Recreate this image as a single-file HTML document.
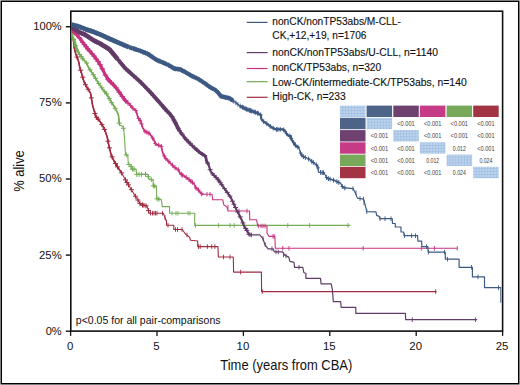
<!DOCTYPE html><html><head><meta charset="utf-8"><style>html,body{margin:0;padding:0;background:#fff;overflow:hidden;width:520px;height:385px;}svg{display:block}</style></head><body>
<svg width="520" height="385" viewBox="0 0 520 385" font-family='"Liberation Sans", sans-serif'>
<rect x="0" y="0" width="520" height="385" fill="#fff"/>
<rect x="1.25" y="1.25" width="517.5" height="382.5" fill="none" stroke="#000" stroke-width="1.5"/>
<rect x="70.8" y="11.2" width="431.8" height="319.9" fill="none" stroke="#111" stroke-width="1.6"/>
<line x1="65.8" y1="331.2" x2="70.8" y2="331.2" stroke="#111" stroke-width="1.4"/>
<line x1="65.8" y1="255.1" x2="70.8" y2="255.1" stroke="#111" stroke-width="1.4"/>
<line x1="65.8" y1="179.0" x2="70.8" y2="179.0" stroke="#111" stroke-width="1.4"/>
<line x1="65.8" y1="102.9" x2="70.8" y2="102.9" stroke="#111" stroke-width="1.4"/>
<line x1="65.8" y1="26.7" x2="70.8" y2="26.7" stroke="#111" stroke-width="1.4"/>
<line x1="70.6" y1="331.2" x2="70.6" y2="335.9" stroke="#111" stroke-width="1.3"/>
<line x1="157.0" y1="331.2" x2="157.0" y2="335.9" stroke="#111" stroke-width="1.3"/>
<line x1="243.4" y1="331.2" x2="243.4" y2="335.9" stroke="#111" stroke-width="1.3"/>
<line x1="329.8" y1="331.2" x2="329.8" y2="335.9" stroke="#111" stroke-width="1.3"/>
<line x1="416.2" y1="331.2" x2="416.2" y2="335.9" stroke="#111" stroke-width="1.3"/>
<line x1="502.6" y1="331.2" x2="502.6" y2="335.9" stroke="#111" stroke-width="1.3"/>
<text x="33.3" y="30.2" font-size="11.6" fill="#111" textLength="28.4" lengthAdjust="spacingAndGlyphs">100%</text>
<text x="39.1" y="106.3" font-size="11.6" fill="#111" textLength="22.6" lengthAdjust="spacingAndGlyphs">75%</text>
<text x="39.1" y="182.4" font-size="11.6" fill="#111" textLength="22.6" lengthAdjust="spacingAndGlyphs">50%</text>
<text x="39.1" y="258.5" font-size="11.6" fill="#111" textLength="22.6" lengthAdjust="spacingAndGlyphs">25%</text>
<text x="45.7" y="334.6" font-size="11.6" fill="#111" textLength="16.0" lengthAdjust="spacingAndGlyphs">0%</text>
<text x="70.1" y="350.1" font-size="11.4" text-anchor="middle" fill="#111">0</text>
<text x="156.5" y="350.1" font-size="11.4" text-anchor="middle" fill="#111">5</text>
<text x="242.9" y="350.1" font-size="11.4" text-anchor="middle" fill="#111">10</text>
<text x="329.3" y="350.1" font-size="11.4" text-anchor="middle" fill="#111">15</text>
<text x="415.7" y="350.1" font-size="11.4" text-anchor="middle" fill="#111">20</text>
<text x="502.1" y="350.1" font-size="11.4" text-anchor="middle" fill="#111">25</text>
<text x="220.3" y="370.2" font-size="14.6" fill="#111" textLength="132" lengthAdjust="spacingAndGlyphs">Time (years from CBA)</text>
<text transform="translate(23.8,191.8) rotate(-90)" font-size="14.6" fill="#111" textLength="41.6" lengthAdjust="spacingAndGlyphs">% alive</text>
<text x="75.8" y="324.3" font-size="10.1" fill="#111" textLength="144.8" lengthAdjust="spacingAndGlyphs">p&lt;0.05 for all pair-comparisons</text>
<line x1="246.7" y1="22.4" x2="267.6" y2="22.4" stroke="#3d5a84" stroke-width="1.2"/>
<line x1="246.7" y1="52.6" x2="267.6" y2="52.6" stroke="#623c68" stroke-width="1.2"/>
<line x1="246.7" y1="68.5" x2="267.6" y2="68.5" stroke="#c8327f" stroke-width="1.2"/>
<line x1="246.7" y1="81.7" x2="267.6" y2="81.7" stroke="#73ad55" stroke-width="1.2"/>
<line x1="246.7" y1="97.3" x2="267.6" y2="97.3" stroke="#a02a3e" stroke-width="1.2"/>
<text x="272.3" y="24.9" font-size="10" fill="#111" stroke="#111" stroke-width="0.12" textLength="128.5" lengthAdjust="spacingAndGlyphs">nonCK/nonTP53abs/M-CLL-</text>
<text x="272.3" y="39.1" font-size="10" fill="#111" stroke="#111" stroke-width="0.12" textLength="94.2" lengthAdjust="spacingAndGlyphs">CK,+12,+19, n=1706</text>
<text x="272.3" y="56.0" font-size="10" fill="#111" stroke="#111" stroke-width="0.12" textLength="165.6" lengthAdjust="spacingAndGlyphs">nonCK/nonTP53abs/U-CLL, n=1140</text>
<text x="272.3" y="70.9" font-size="10" fill="#111" stroke="#111" stroke-width="0.12" textLength="108.9" lengthAdjust="spacingAndGlyphs">nonCK/TP53abs, n=320</text>
<text x="272.3" y="86.0" font-size="10" fill="#111" stroke="#111" stroke-width="0.12" textLength="194.4" lengthAdjust="spacingAndGlyphs">Low-CK/intermediate-CK/TP53abs, n=140</text>
<text x="272.3" y="100.3" font-size="10" fill="#111" stroke="#111" stroke-width="0.12" textLength="73.4" lengthAdjust="spacingAndGlyphs">High-CK, n=233</text>
<defs><pattern id="pt" x="0" y="0" width="2.9" height="2.9" patternUnits="userSpaceOnUse"><rect width="2.9" height="2.9" fill="#c2d7ee"/><rect x="0" width="1" height="2.9" fill="#a3c1e4"/><rect y="0" width="2.9" height="1" fill="#a3c1e4"/></pattern></defs>
<rect x="340.0" y="105.6" width="25.5" height="11.4" fill="url(#pt)"/>
<rect x="366.6" y="105.6" width="25.5" height="11.4" fill="#4d6488"/>
<rect x="393.3" y="105.6" width="25.5" height="11.4" fill="#6e4170"/>
<rect x="419.9" y="105.6" width="25.5" height="11.4" fill="#c63b86"/>
<rect x="446.6" y="105.6" width="25.5" height="11.4" fill="#78a85a"/>
<rect x="473.2" y="105.6" width="25.5" height="11.4" fill="#a33444"/>
<rect x="340.0" y="117.8" width="25.5" height="11.4" fill="#4d6488"/>
<rect x="366.6" y="117.8" width="25.5" height="11.4" fill="url(#pt)"/>
<text x="406.0" y="126.1" font-size="6.6" fill="#3a3a3a" text-anchor="middle" textLength="17.4" lengthAdjust="spacingAndGlyphs">&lt;0.001</text>
<text x="432.7" y="126.1" font-size="6.6" fill="#3a3a3a" text-anchor="middle" textLength="17.4" lengthAdjust="spacingAndGlyphs">&lt;0.001</text>
<text x="459.3" y="126.1" font-size="6.6" fill="#3a3a3a" text-anchor="middle" textLength="17.4" lengthAdjust="spacingAndGlyphs">&lt;0.001</text>
<text x="485.9" y="126.1" font-size="6.6" fill="#3a3a3a" text-anchor="middle" textLength="17.4" lengthAdjust="spacingAndGlyphs">&lt;0.001</text>
<rect x="340.0" y="130.1" width="25.5" height="11.4" fill="#6e4170"/>
<text x="379.4" y="138.4" font-size="6.6" fill="#3a3a3a" text-anchor="middle" textLength="17.4" lengthAdjust="spacingAndGlyphs">&lt;0.001</text>
<rect x="393.3" y="130.1" width="25.5" height="11.4" fill="url(#pt)"/>
<text x="432.7" y="138.4" font-size="6.6" fill="#3a3a3a" text-anchor="middle" textLength="17.4" lengthAdjust="spacingAndGlyphs">&lt;0.001</text>
<text x="459.3" y="138.4" font-size="6.6" fill="#3a3a3a" text-anchor="middle" textLength="17.4" lengthAdjust="spacingAndGlyphs">&lt;0.001</text>
<text x="485.9" y="138.4" font-size="6.6" fill="#3a3a3a" text-anchor="middle" textLength="17.4" lengthAdjust="spacingAndGlyphs">&lt;0.001</text>
<rect x="340.0" y="142.3" width="25.5" height="11.4" fill="#c63b86"/>
<text x="379.4" y="150.7" font-size="6.6" fill="#3a3a3a" text-anchor="middle" textLength="17.4" lengthAdjust="spacingAndGlyphs">&lt;0.001</text>
<text x="406.0" y="150.7" font-size="6.6" fill="#3a3a3a" text-anchor="middle" textLength="17.4" lengthAdjust="spacingAndGlyphs">&lt;0.001</text>
<rect x="419.9" y="142.3" width="25.5" height="11.4" fill="url(#pt)"/>
<text x="459.3" y="150.7" font-size="6.6" fill="#3a3a3a" text-anchor="middle" textLength="13.0" lengthAdjust="spacingAndGlyphs">0.012</text>
<text x="485.9" y="150.7" font-size="6.6" fill="#3a3a3a" text-anchor="middle" textLength="17.4" lengthAdjust="spacingAndGlyphs">&lt;0.001</text>
<rect x="340.0" y="154.6" width="25.5" height="11.4" fill="#78a85a"/>
<text x="379.4" y="162.9" font-size="6.6" fill="#3a3a3a" text-anchor="middle" textLength="17.4" lengthAdjust="spacingAndGlyphs">&lt;0.001</text>
<text x="406.0" y="162.9" font-size="6.6" fill="#3a3a3a" text-anchor="middle" textLength="17.4" lengthAdjust="spacingAndGlyphs">&lt;0.001</text>
<text x="432.7" y="162.9" font-size="6.6" fill="#3a3a3a" text-anchor="middle" textLength="13.0" lengthAdjust="spacingAndGlyphs">0.012</text>
<rect x="446.6" y="154.6" width="25.5" height="11.4" fill="url(#pt)"/>
<text x="485.9" y="162.9" font-size="6.6" fill="#3a3a3a" text-anchor="middle" textLength="13.0" lengthAdjust="spacingAndGlyphs">0.024</text>
<rect x="340.0" y="166.8" width="25.5" height="11.4" fill="#a33444"/>
<text x="379.4" y="175.2" font-size="6.6" fill="#3a3a3a" text-anchor="middle" textLength="17.4" lengthAdjust="spacingAndGlyphs">&lt;0.001</text>
<text x="406.0" y="175.2" font-size="6.6" fill="#3a3a3a" text-anchor="middle" textLength="17.4" lengthAdjust="spacingAndGlyphs">&lt;0.001</text>
<text x="432.7" y="175.2" font-size="6.6" fill="#3a3a3a" text-anchor="middle" textLength="17.4" lengthAdjust="spacingAndGlyphs">&lt;0.001</text>
<text x="459.3" y="175.2" font-size="6.6" fill="#3a3a3a" text-anchor="middle" textLength="13.0" lengthAdjust="spacingAndGlyphs">0.024</text>
<rect x="473.2" y="166.8" width="25.5" height="11.4" fill="url(#pt)"/>
<defs><clipPath id="cp"><rect x="71.5" y="12" width="430" height="318.4"/></clipPath></defs><g clip-path="url(#cp)">
<polyline points="70.8,30.0 72.5,38.0 73.5,40.0 73.8,43.9 74.2,47.8 75.8,54.0 77.7,58.7 78.9,62.6 79.7,67.3 81.3,72.5 84.4,82.9 87.5,88.1 90.6,93.3 92.7,105.8 95.8,116.3 100.0,121.5 103.1,126.7 105.0,130.4 107.1,136.7 109.2,147.1 111.3,155.4 114.4,161.7 117.5,166.9 121.7,173.1 125.8,180.5 130.5,188.3 134.3,194.5 138.4,200.8 140.5,204.5 146.8,206.0 148.8,211.2 148.8,213.2 163.4,213.2 164.4,216.4 166.5,221.6 166.5,225.3 173.8,225.3 173.8,229.5 182.3,229.5 185.4,234.0 189.5,237.1 190.6,240.3 197.7,241.0 197.7,246.6 217.9,246.6 218.4,257.0 233.3,257.0 233.6,272.1 261.4,272.1 261.6,291.6 436.5,291.6" fill="none" stroke="#a02a3e" stroke-width="1.1" stroke-linejoin="round" stroke-linecap="butt" />
<polyline points="70.8,30.0 72.5,38.0 73.5,40.0 73.8,43.9 74.2,47.8 75.8,54.0 77.7,58.7 78.9,62.6 79.7,67.3 81.3,72.5 84.4,82.9 87.5,88.1 90.6,93.3 92.7,105.8 95.8,116.3 100.0,121.5 103.1,126.7 105.0,130.4 107.1,136.7 109.2,147.1 111.3,155.4 114.4,161.7 117.5,166.9 121.7,173.1" fill="none" stroke="#a02a3e" stroke-width="1.6" stroke-linejoin="round" stroke-linecap="butt" />
<path d="M71.5 30.8v5.0M69.0 33.3h5.0" stroke="#a02a3e" stroke-width="1.0" fill="none"/>
<path d="M73.3 37.1v5.0M70.8 39.6h5.0" stroke="#a02a3e" stroke-width="1.0" fill="none"/>
<path d="M77.0 54.6v5.0M74.5 57.1h5.0" stroke="#a02a3e" stroke-width="1.0" fill="none"/>
<path d="M80.6 67.7v5.0M78.1 70.2h5.0" stroke="#a02a3e" stroke-width="1.0" fill="none"/>
<path d="M82.7 74.7v5.0M80.2 77.2h5.0" stroke="#a02a3e" stroke-width="1.0" fill="none"/>
<path d="M85.5 82.2v5.0M83.0 84.7h5.0" stroke="#a02a3e" stroke-width="1.0" fill="none"/>
<path d="M88.1 86.7v5.0M85.6 89.2h5.0" stroke="#a02a3e" stroke-width="1.0" fill="none"/>
<path d="M91.4 95.4v5.0M88.9 97.9h5.0" stroke="#a02a3e" stroke-width="1.0" fill="none"/>
<path d="M95.0 111.0v5.0M92.5 113.5h5.0" stroke="#a02a3e" stroke-width="1.0" fill="none"/>
<path d="M96.6 114.8v5.0M94.1 117.3h5.0" stroke="#a02a3e" stroke-width="1.0" fill="none"/>
<path d="M98.1 116.7v5.0M95.6 119.2h5.0" stroke="#a02a3e" stroke-width="1.0" fill="none"/>
<path d="M101.9 122.1v5.0M99.4 124.6h5.0" stroke="#a02a3e" stroke-width="1.0" fill="none"/>
<path d="M104.5 126.9v5.0M102.0 129.4h5.0" stroke="#a02a3e" stroke-width="1.0" fill="none"/>
<path d="M108.0 138.7v5.0M105.5 141.2h5.0" stroke="#a02a3e" stroke-width="1.0" fill="none"/>
<path d="M109.4 145.4v5.0M106.9 147.9h5.0" stroke="#a02a3e" stroke-width="1.0" fill="none"/>
<path d="M112.1 154.4v5.0M109.6 156.9h5.0" stroke="#a02a3e" stroke-width="1.0" fill="none"/>
<path d="M115.5 161.0v5.0M113.0 163.5h5.0" stroke="#a02a3e" stroke-width="1.0" fill="none"/>
<path d="M117.5 164.4v5.0M115.0 166.9h5.0" stroke="#a02a3e" stroke-width="1.0" fill="none"/>
<path d="M121.6 170.4v5.0M119.1 172.9h5.0" stroke="#a02a3e" stroke-width="1.0" fill="none"/>
<path d="M125.5 177.4v5.0M123.0 179.9h5.0" stroke="#a02a3e" stroke-width="1.0" fill="none"/>
<path d="M127.0 180.0v5.0M124.5 182.5h5.0" stroke="#a02a3e" stroke-width="1.0" fill="none"/>
<path d="M128.5 182.4v5.0M126.0 184.9h5.0" stroke="#a02a3e" stroke-width="1.0" fill="none"/>
<path d="M131.4 187.2v5.0M128.9 189.7h5.0" stroke="#a02a3e" stroke-width="1.0" fill="none"/>
<path d="M135.4 193.7v5.0M132.9 196.2h5.0" stroke="#a02a3e" stroke-width="1.0" fill="none"/>
<path d="M137.9 197.5v5.0M135.4 200.0h5.0" stroke="#a02a3e" stroke-width="1.0" fill="none"/>
<path d="M139.9 200.9v5.0M137.4 203.4h5.0" stroke="#a02a3e" stroke-width="1.0" fill="none"/>
<path d="M142.5 202.5v5.0M140.0 205.0h5.0" stroke="#a02a3e" stroke-width="1.0" fill="none"/>
<path d="M143.9 202.8v5.0M141.4 205.3h5.0" stroke="#a02a3e" stroke-width="1.0" fill="none"/>
<path d="M146.0 203.3v5.0M143.5 205.8h5.0" stroke="#a02a3e" stroke-width="1.0" fill="none"/>
<path d="M148.6 208.1v5.0M146.1 210.6h5.0" stroke="#a02a3e" stroke-width="1.0" fill="none"/>
<line x1="150.5" y1="210.9" x2="150.5" y2="215.5" stroke="#a02a3e" stroke-width="0.9"/>
<line x1="152.5" y1="210.9" x2="152.5" y2="215.5" stroke="#a02a3e" stroke-width="0.9"/>
<line x1="154.0" y1="210.9" x2="154.0" y2="215.5" stroke="#a02a3e" stroke-width="0.9"/>
<line x1="155.5" y1="210.9" x2="155.5" y2="215.5" stroke="#a02a3e" stroke-width="0.9"/>
<line x1="157.0" y1="210.9" x2="157.0" y2="215.5" stroke="#a02a3e" stroke-width="0.9"/>
<line x1="162.5" y1="210.9" x2="162.5" y2="215.5" stroke="#a02a3e" stroke-width="0.9"/>
<line x1="165.0" y1="215.2" x2="165.0" y2="219.8" stroke="#a02a3e" stroke-width="0.9"/>
<line x1="166.5" y1="219.7" x2="166.5" y2="224.3" stroke="#a02a3e" stroke-width="0.9"/>
<line x1="168.0" y1="223.0" x2="168.0" y2="227.6" stroke="#a02a3e" stroke-width="0.9"/>
<line x1="175.5" y1="227.2" x2="175.5" y2="231.8" stroke="#a02a3e" stroke-width="0.9"/>
<line x1="177.5" y1="227.2" x2="177.5" y2="231.8" stroke="#a02a3e" stroke-width="0.9"/>
<line x1="182.0" y1="227.2" x2="182.0" y2="231.8" stroke="#a02a3e" stroke-width="0.9"/>
<line x1="187.0" y1="232.7" x2="187.0" y2="237.3" stroke="#a02a3e" stroke-width="0.9"/>
<line x1="198.5" y1="244.3" x2="198.5" y2="248.9" stroke="#a02a3e" stroke-width="0.9"/>
<line x1="200.2" y1="244.3" x2="200.2" y2="248.9" stroke="#a02a3e" stroke-width="0.9"/>
<line x1="207.4" y1="244.3" x2="207.4" y2="248.9" stroke="#a02a3e" stroke-width="0.9"/>
<line x1="211.7" y1="244.3" x2="211.7" y2="248.9" stroke="#a02a3e" stroke-width="0.9"/>
<line x1="214.9" y1="244.3" x2="214.9" y2="248.9" stroke="#a02a3e" stroke-width="0.9"/>
<line x1="223.5" y1="254.7" x2="223.5" y2="259.3" stroke="#a02a3e" stroke-width="0.9"/>
<line x1="230.0" y1="254.7" x2="230.0" y2="259.3" stroke="#a02a3e" stroke-width="0.9"/>
<line x1="240.6" y1="269.8" x2="240.6" y2="274.4" stroke="#a02a3e" stroke-width="0.9"/>
<line x1="262.3" y1="289.3" x2="262.3" y2="293.9" stroke="#a02a3e" stroke-width="0.9"/>
<line x1="435.7" y1="289.3" x2="435.7" y2="293.9" stroke="#a02a3e" stroke-width="0.9"/>
<polyline points="70.8,30.0 72.1,36.4 74.2,40.6 76.2,47.9 78.3,52.5 82.5,58.5 86.6,63.0 88.5,67.5 93.8,75.4 98.9,83.8 102.8,89.3 106.7,94.0 110.6,101.0 114.5,107.0 117.5,112.7 118.5,115.8 119.6,125.2 122.7,126.3 123.8,129.4 124.8,142.9 125.2,150.0 125.7,154.7 127.8,155.2 128.3,164.5 130.9,164.5 131.4,169.2 136.1,169.2 136.6,174.4 148.0,174.4 148.6,178.6 151.2,179.6 153.2,180.1 153.2,185.8 156.4,186.4 156.8,198.7 161.3,199.7 162.3,206.6 169.6,206.6 169.6,213.2 194.7,213.2 194.7,225.4 350.4,225.4" fill="none" stroke="#73ad55" stroke-width="1.1" stroke-linejoin="round" stroke-linecap="butt" />
<polyline points="70.8,30.0 72.1,36.4 74.2,40.6 76.2,47.9 78.3,52.5 82.5,58.5 86.6,63.0 88.5,67.5 93.8,75.4 98.9,83.8 102.8,89.3 106.7,94.0 110.6,101.0 114.5,107.0 117.5,112.7 118.5,115.8 119.6,125.2" fill="none" stroke="#73ad55" stroke-width="1.6" stroke-linejoin="round" stroke-linecap="butt" />
<polyline points="70.8,30.0 72.1,36.4 74.2,40.6 76.2,47.9 78.3,52.5" fill="none" stroke="#73ad55" stroke-width="2.8" stroke-linejoin="round" stroke-linecap="butt" />
<path d="M71.5 30.9v5.0M69.0 33.4h5.0" stroke="#73ad55" stroke-width="1.0" fill="none"/>
<path d="M75.6 43.1v5.0M73.1 45.6h5.0" stroke="#73ad55" stroke-width="1.0" fill="none"/>
<path d="M79.6 51.9v5.0M77.1 54.4h5.0" stroke="#73ad55" stroke-width="1.0" fill="none"/>
<path d="M81.2 54.1v5.0M78.7 56.6h5.0" stroke="#73ad55" stroke-width="1.0" fill="none"/>
<path d="M82.8 56.4v5.0M80.3 58.9h5.0" stroke="#73ad55" stroke-width="1.0" fill="none"/>
<path d="M86.6 60.5v5.0M84.1 63.0h5.0" stroke="#73ad55" stroke-width="1.0" fill="none"/>
<path d="M90.0 67.3v5.0M87.5 69.8h5.0" stroke="#73ad55" stroke-width="1.0" fill="none"/>
<path d="M93.3 72.2v5.0M90.8 74.7h5.0" stroke="#73ad55" stroke-width="1.0" fill="none"/>
<path d="M95.6 75.8v5.0M93.1 78.3h5.0" stroke="#73ad55" stroke-width="1.0" fill="none"/>
<path d="M98.7 80.9v5.0M96.2 83.4h5.0" stroke="#73ad55" stroke-width="1.0" fill="none"/>
<path d="M101.8 85.3v5.0M99.3 87.8h5.0" stroke="#73ad55" stroke-width="1.0" fill="none"/>
<path d="M104.8 89.2v5.0M102.3 91.7h5.0" stroke="#73ad55" stroke-width="1.0" fill="none"/>
<path d="M106.6 91.4v5.0M104.1 93.9h5.0" stroke="#73ad55" stroke-width="1.0" fill="none"/>
<path d="M109.2 96.1v5.0M106.7 98.6h5.0" stroke="#73ad55" stroke-width="1.0" fill="none"/>
<path d="M111.7 100.3v5.0M109.2 102.8h5.0" stroke="#73ad55" stroke-width="1.0" fill="none"/>
<path d="M115.2 105.8v5.0M112.7 108.3h5.0" stroke="#73ad55" stroke-width="1.0" fill="none"/>
<path d="M119.3 120.6v5.0M116.8 123.1h5.0" stroke="#73ad55" stroke-width="1.0" fill="none"/>
<path d="M123.4 125.8v5.0M120.9 128.3h5.0" stroke="#73ad55" stroke-width="1.0" fill="none"/>
<path d="M126.3 152.4v5.0M123.8 154.9h5.0" stroke="#73ad55" stroke-width="1.0" fill="none"/>
<path d="M129.0 162.0v5.0M126.5 164.5h5.0" stroke="#73ad55" stroke-width="1.0" fill="none"/>
<path d="M131.1 164.1v5.0M128.6 166.6h5.0" stroke="#73ad55" stroke-width="1.0" fill="none"/>
<path d="M132.6 166.7v5.0M130.1 169.2h5.0" stroke="#73ad55" stroke-width="1.0" fill="none"/>
<path d="M134.1 166.7v5.0M131.6 169.2h5.0" stroke="#73ad55" stroke-width="1.0" fill="none"/>
<path d="M136.8 171.9v5.0M134.3 174.4h5.0" stroke="#73ad55" stroke-width="1.0" fill="none"/>
<path d="M139.1 171.9v5.0M136.6 174.4h5.0" stroke="#73ad55" stroke-width="1.0" fill="none"/>
<path d="M141.6 171.9v5.0M139.1 174.4h5.0" stroke="#73ad55" stroke-width="1.0" fill="none"/>
<path d="M145.5 171.9v5.0M143.0 174.4h5.0" stroke="#73ad55" stroke-width="1.0" fill="none"/>
<path d="M148.3 174.2v5.0M145.8 176.7h5.0" stroke="#73ad55" stroke-width="1.0" fill="none"/>
<path d="M151.3 177.1v5.0M148.8 179.6h5.0" stroke="#73ad55" stroke-width="1.0" fill="none"/>
<path d="M153.4 183.3v5.0M150.9 185.8h5.0" stroke="#73ad55" stroke-width="1.0" fill="none"/>
<path d="M154.8 183.6v5.0M152.3 186.1h5.0" stroke="#73ad55" stroke-width="1.0" fill="none"/>
<path d="M157.1 196.3v5.0M154.6 198.8h5.0" stroke="#73ad55" stroke-width="1.0" fill="none"/>
<path d="M158.9 196.7v5.0M156.4 199.2h5.0" stroke="#73ad55" stroke-width="1.0" fill="none"/>
<line x1="172.0" y1="210.9" x2="172.0" y2="215.5" stroke="#73ad55" stroke-width="0.9"/>
<line x1="176.0" y1="210.9" x2="176.0" y2="215.5" stroke="#73ad55" stroke-width="0.9"/>
<line x1="178.0" y1="210.9" x2="178.0" y2="215.5" stroke="#73ad55" stroke-width="0.9"/>
<line x1="188.0" y1="210.9" x2="188.0" y2="215.5" stroke="#73ad55" stroke-width="0.9"/>
<line x1="190.0" y1="210.9" x2="190.0" y2="215.5" stroke="#73ad55" stroke-width="0.9"/>
<line x1="195.5" y1="223.1" x2="195.5" y2="227.7" stroke="#73ad55" stroke-width="0.9"/>
<line x1="218.6" y1="223.1" x2="218.6" y2="227.7" stroke="#73ad55" stroke-width="0.9"/>
<line x1="230.1" y1="223.1" x2="230.1" y2="227.7" stroke="#73ad55" stroke-width="0.9"/>
<line x1="234.2" y1="223.1" x2="234.2" y2="227.7" stroke="#73ad55" stroke-width="0.9"/>
<line x1="243.6" y1="223.1" x2="243.6" y2="227.7" stroke="#73ad55" stroke-width="0.9"/>
<line x1="287.8" y1="223.1" x2="287.8" y2="227.7" stroke="#73ad55" stroke-width="0.9"/>
<line x1="309.6" y1="223.1" x2="309.6" y2="227.7" stroke="#73ad55" stroke-width="0.9"/>
<line x1="348.1" y1="223.1" x2="348.1" y2="227.7" stroke="#73ad55" stroke-width="0.9"/>
<polyline points="70.8,28.5 72.3,30.6 77.2,35.3 79.8,38.3 84.0,44.0 88.2,49.4 92.3,54.0 96.0,58.6 98.2,61.6 100.0,64.6 102.9,70.0 105.7,75.6 108.6,80.0 111.4,82.8 114.8,86.1 118.1,90.5 121.5,95.3 124.0,99.0 126.2,101.5 130.0,104.7 133.1,108.6 136.2,110.9 137.8,117.1 140.9,121.8 142.5,127.3 144.8,131.2 149.5,133.5 153.4,139.0 155.7,144.4 161.2,146.0 162.8,153.0 165.4,158.2 169.3,162.1 171.9,164.7 174.5,167.3 178.4,169.9 180.3,173.8 183.6,175.7 187.5,178.3 191.4,181.6 194.0,183.5 195.8,187.9 197.9,189.3 200.0,192.1 202.1,194.3 212.1,194.3 212.6,199.8 222.8,199.8 223.8,204.9 227.0,207.0 228.0,211.0 249.5,211.0 249.8,219.7 256.6,219.7 257.7,226.0 267.0,226.0 267.0,233.2 269.1,236.4 274.9,236.4 275.3,248.3 457.3,248.3" fill="none" stroke="#c8327f" stroke-width="1.1" stroke-linejoin="round" stroke-linecap="butt" />
<polyline points="70.8,28.5 72.3,30.6 77.2,35.3 79.8,38.3 84.0,44.0 88.2,49.4 92.3,54.0 96.0,58.6 98.2,61.6 100.0,64.6 102.9,70.0 105.7,75.6 108.6,80.0 111.4,82.8 114.8,86.1 118.1,90.5 121.5,95.3 124.0,99.0 126.2,101.5" fill="none" stroke="#c8327f" stroke-width="3.2" stroke-linejoin="round" stroke-linecap="butt" />
<polyline points="126.2,101.5 130.0,104.7 133.1,108.6 136.2,110.9 137.8,117.1 140.9,121.8 142.5,127.3 144.8,131.2 149.5,133.5 153.4,139.0 155.7,144.4 161.2,146.0 162.8,153.0 165.4,158.2 169.3,162.1 171.9,164.7 174.5,167.3 178.4,169.9 180.3,173.8 183.6,175.7 187.5,178.3 191.4,181.6 194.0,183.5 195.8,187.9 197.9,189.3 200.0,192.1 202.1,194.3" fill="none" stroke="#c8327f" stroke-width="1.6" stroke-linejoin="round" stroke-linecap="butt" />
<path d="M126.0 98.8v5.0M124.0 101.3h4.0" stroke="#c8327f" stroke-width="1.0" fill="none"/>
<path d="M127.9 100.4v5.0M125.9 102.9h4.0" stroke="#c8327f" stroke-width="1.0" fill="none"/>
<path d="M130.6 103.0v5.0M128.6 105.5h4.0" stroke="#c8327f" stroke-width="1.0" fill="none"/>
<path d="M132.9 105.8v5.0M130.9 108.3h4.0" stroke="#c8327f" stroke-width="1.0" fill="none"/>
<path d="M135.8 108.1v5.0M133.8 110.6h4.0" stroke="#c8327f" stroke-width="1.0" fill="none"/>
<path d="M138.7 116.0v5.0M136.7 118.5h4.0" stroke="#c8327f" stroke-width="1.0" fill="none"/>
<path d="M140.2 118.2v5.0M138.2 120.7h4.0" stroke="#c8327f" stroke-width="1.0" fill="none"/>
<path d="M141.5 121.4v5.0M139.5 123.9h4.0" stroke="#c8327f" stroke-width="1.0" fill="none"/>
<path d="M145.0 128.8v5.0M143.0 131.3h4.0" stroke="#c8327f" stroke-width="1.0" fill="none"/>
<path d="M146.9 129.8v5.0M144.9 132.3h4.0" stroke="#c8327f" stroke-width="1.0" fill="none"/>
<path d="M148.9 130.7v5.0M146.9 133.2h4.0" stroke="#c8327f" stroke-width="1.0" fill="none"/>
<path d="M152.7 135.6v5.0M150.7 138.1h4.0" stroke="#c8327f" stroke-width="1.0" fill="none"/>
<path d="M155.3 140.9v5.0M153.3 143.4h4.0" stroke="#c8327f" stroke-width="1.0" fill="none"/>
<path d="M158.7 142.8v5.0M156.7 145.3h4.0" stroke="#c8327f" stroke-width="1.0" fill="none"/>
<path d="M161.3 143.9v5.0M159.3 146.4h4.0" stroke="#c8327f" stroke-width="1.0" fill="none"/>
<path d="M164.2 153.4v5.0M162.2 155.9h4.0" stroke="#c8327f" stroke-width="1.0" fill="none"/>
<path d="M165.9 156.2v5.0M163.9 158.7h4.0" stroke="#c8327f" stroke-width="1.0" fill="none"/>
<path d="M168.9 159.2v5.0M166.9 161.7h4.0" stroke="#c8327f" stroke-width="1.0" fill="none"/>
<path d="M172.4 162.7v5.0M170.4 165.2h4.0" stroke="#c8327f" stroke-width="1.0" fill="none"/>
<path d="M175.1 165.2v5.0M173.1 167.7h4.0" stroke="#c8327f" stroke-width="1.0" fill="none"/>
<path d="M178.3 167.4v5.0M176.3 169.9h4.0" stroke="#c8327f" stroke-width="1.0" fill="none"/>
<path d="M181.4 171.9v5.0M179.4 174.4h4.0" stroke="#c8327f" stroke-width="1.0" fill="none"/>
<path d="M182.8 172.8v5.0M180.8 175.3h4.0" stroke="#c8327f" stroke-width="1.0" fill="none"/>
<path d="M186.1 174.9v5.0M184.1 177.4h4.0" stroke="#c8327f" stroke-width="1.0" fill="none"/>
<path d="M189.0 177.0v5.0M187.0 179.5h4.0" stroke="#c8327f" stroke-width="1.0" fill="none"/>
<path d="M191.0 178.8v5.0M189.0 181.3h4.0" stroke="#c8327f" stroke-width="1.0" fill="none"/>
<path d="M192.4 179.8v5.0M190.4 182.3h4.0" stroke="#c8327f" stroke-width="1.0" fill="none"/>
<path d="M196.0 185.5v5.0M194.0 188.0h4.0" stroke="#c8327f" stroke-width="1.0" fill="none"/>
<path d="M198.5 187.6v5.0M196.5 190.1h4.0" stroke="#c8327f" stroke-width="1.0" fill="none"/>
<path d="M201.7 191.3v5.0M199.7 193.8h4.0" stroke="#c8327f" stroke-width="1.0" fill="none"/>
<path d="M72.0 27.7v5.0M69.2 30.2h5.5" stroke="#c8327f" stroke-width="1.0" fill="none"/>
<path d="M73.8 29.6v5.0M71.1 32.1h5.5" stroke="#c8327f" stroke-width="1.0" fill="none"/>
<path d="M76.7 32.3v5.0M73.9 34.8h5.5" stroke="#c8327f" stroke-width="1.0" fill="none"/>
<path d="M79.5 35.5v5.0M76.8 38.0h5.5" stroke="#c8327f" stroke-width="1.0" fill="none"/>
<path d="M82.7 39.8v5.0M80.0 42.3h5.5" stroke="#c8327f" stroke-width="1.0" fill="none"/>
<path d="M84.4 42.0v5.0M81.6 44.5h5.5" stroke="#c8327f" stroke-width="1.0" fill="none"/>
<path d="M86.1 44.3v5.0M83.4 46.8h5.5" stroke="#c8327f" stroke-width="1.0" fill="none"/>
<path d="M87.7 46.3v5.0M84.9 48.8h5.5" stroke="#c8327f" stroke-width="1.0" fill="none"/>
<path d="M89.4 48.3v5.0M86.7 50.8h5.5" stroke="#c8327f" stroke-width="1.0" fill="none"/>
<path d="M92.4 51.6v5.0M89.7 54.1h5.5" stroke="#c8327f" stroke-width="1.0" fill="none"/>
<path d="M93.9 53.5v5.0M91.2 56.0h5.5" stroke="#c8327f" stroke-width="1.0" fill="none"/>
<path d="M96.4 56.6v5.0M93.6 59.1h5.5" stroke="#c8327f" stroke-width="1.0" fill="none"/>
<path d="M98.1 59.0v5.0M95.4 61.5h5.5" stroke="#c8327f" stroke-width="1.0" fill="none"/>
<path d="M100.0 62.1v5.0M97.3 64.6h5.5" stroke="#c8327f" stroke-width="1.0" fill="none"/>
<path d="M102.2 66.3v5.0M99.5 68.8h5.5" stroke="#c8327f" stroke-width="1.0" fill="none"/>
<path d="M105.5 72.6v5.0M102.7 75.1h5.5" stroke="#c8327f" stroke-width="1.0" fill="none"/>
<path d="M108.1 76.8v5.0M105.4 79.3h5.5" stroke="#c8327f" stroke-width="1.0" fill="none"/>
<path d="M109.3 78.2v5.0M106.6 80.7h5.5" stroke="#c8327f" stroke-width="1.0" fill="none"/>
<path d="M111.2 80.1v5.0M108.5 82.6h5.5" stroke="#c8327f" stroke-width="1.0" fill="none"/>
<path d="M112.8 81.6v5.0M110.0 84.1h5.5" stroke="#c8327f" stroke-width="1.0" fill="none"/>
<path d="M116.1 85.3v5.0M113.3 87.8h5.5" stroke="#c8327f" stroke-width="1.0" fill="none"/>
<path d="M119.2 89.6v5.0M116.4 92.1h5.5" stroke="#c8327f" stroke-width="1.0" fill="none"/>
<path d="M122.3 94.0v5.0M119.6 96.5h5.5" stroke="#c8327f" stroke-width="1.0" fill="none"/>
<path d="M125.5 98.2v5.0M122.8 100.7h5.5" stroke="#c8327f" stroke-width="1.0" fill="none"/>
<line x1="207.0" y1="192.0" x2="207.0" y2="196.6" stroke="#c8327f" stroke-width="0.9"/>
<line x1="210.0" y1="192.0" x2="210.0" y2="196.6" stroke="#c8327f" stroke-width="0.9"/>
<line x1="228.0" y1="204.7" x2="228.0" y2="209.3" stroke="#c8327f" stroke-width="0.9"/>
<line x1="239.0" y1="208.7" x2="239.0" y2="213.3" stroke="#c8327f" stroke-width="0.9"/>
<line x1="247.0" y1="208.7" x2="247.0" y2="213.3" stroke="#c8327f" stroke-width="0.9"/>
<line x1="258.3" y1="223.7" x2="258.3" y2="228.3" stroke="#c8327f" stroke-width="0.9"/>
<line x1="261.0" y1="223.7" x2="261.0" y2="228.3" stroke="#c8327f" stroke-width="0.9"/>
<line x1="263.0" y1="223.7" x2="263.0" y2="228.3" stroke="#c8327f" stroke-width="0.9"/>
<line x1="265.0" y1="223.7" x2="265.0" y2="228.3" stroke="#c8327f" stroke-width="0.9"/>
<line x1="273.0" y1="234.1" x2="273.0" y2="238.7" stroke="#c8327f" stroke-width="0.9"/>
<line x1="274.2" y1="234.1" x2="274.2" y2="238.7" stroke="#c8327f" stroke-width="0.9"/>
<line x1="282.8" y1="246.0" x2="282.8" y2="250.6" stroke="#c8327f" stroke-width="0.9"/>
<line x1="289.0" y1="246.0" x2="289.0" y2="250.6" stroke="#c8327f" stroke-width="0.9"/>
<line x1="363.2" y1="246.0" x2="363.2" y2="250.6" stroke="#c8327f" stroke-width="0.9"/>
<line x1="421.4" y1="246.0" x2="421.4" y2="250.6" stroke="#c8327f" stroke-width="0.9"/>
<line x1="434.5" y1="246.0" x2="434.5" y2="250.6" stroke="#c8327f" stroke-width="0.9"/>
<line x1="457.3" y1="246.0" x2="457.3" y2="250.6" stroke="#c8327f" stroke-width="0.9"/>
<polyline points="70.8,26.8 76.0,30.0 80.0,32.6 84.6,34.4 94.0,40.6 100.0,43.5 109.6,49.5 114.4,55.3 117.8,59.4 125.6,68.7 133.4,75.7 141.2,82.7 149.0,90.8 156.0,98.6 161.5,104.8 166.0,110.0 170.0,114.0 172.5,117.5 175.0,122.1 179.2,130.4 185.4,138.7 193.7,147.0 199.3,152.1 203.6,155.0 205.7,156.4 206.4,160.7 208.6,165.0 210.7,171.4 213.6,175.0 217.9,179.3 221.4,184.3 225.0,189.3 228.6,194.3 231.4,198.6 233.2,202.9 237.3,211.2 241.5,219.5 244.2,226.0 247.3,231.2 249.4,234.9 259.7,234.9 262.9,238.4 264.9,244.7 268.1,248.8 273.2,248.8 274.3,251.9 282.6,251.9 284.7,255.1 288.8,257.1 289.9,261.3 294.0,262.3 294.5,267.3 302.8,267.3 303.8,272.5 305.9,273.5 305.9,278.3 320.5,278.3 321.1,283.9 331.2,283.9 332.3,289.1 333.3,301.6 340.6,301.6 341.2,307.4 355.8,307.4 355.8,313.4 405.4,313.4 405.7,319.7 477.2,319.7" fill="none" stroke="#623c68" stroke-width="1.2" stroke-linejoin="round" stroke-linecap="butt" />
<polyline points="70.8,26.8 76.0,30.0 80.0,32.6 84.6,34.4 94.0,40.6 100.0,43.5 109.6,49.5 114.4,55.3 117.8,59.4" fill="none" stroke="#623c68" stroke-width="4.6" stroke-linejoin="round" stroke-linecap="butt" />
<polyline points="117.8,59.4 125.6,68.7 133.4,75.7 141.2,82.7 149.0,90.8 156.0,98.6 161.5,104.8 166.0,110.0 170.0,114.0 172.5,117.5 175.0,122.1 179.2,130.4" fill="none" stroke="#623c68" stroke-width="3.8" stroke-linejoin="round" stroke-linecap="butt" />
<polyline points="175.0,122.1 179.2,130.4 185.4,138.7 193.7,147.0 199.3,152.1 203.6,155.0 205.7,156.4 206.4,160.7 208.6,165.0" fill="none" stroke="#623c68" stroke-width="2.8" stroke-linejoin="round" stroke-linecap="butt" />
<polyline points="205.7,156.4 206.4,160.7 208.6,165.0 210.7,171.4 213.6,175.0 217.9,179.3 221.4,184.3 225.0,189.3 228.6,194.3 231.4,198.6 233.2,202.9 237.3,211.2 241.5,219.5 244.2,226.0 247.3,231.2 249.4,234.9" fill="none" stroke="#623c68" stroke-width="2.0" stroke-linejoin="round" stroke-linecap="butt" />
<path d="M72.0 25.0v5.0M69.5 27.5h5.0" stroke="#623c68" stroke-width="0.9" fill="none"/>
<path d="M73.3 25.9v5.0M70.8 28.4h5.0" stroke="#623c68" stroke-width="0.9" fill="none"/>
<path d="M76.0 27.5v5.0M73.5 30.0h5.0" stroke="#623c68" stroke-width="0.9" fill="none"/>
<path d="M78.5 29.1v5.0M76.0 31.6h5.0" stroke="#623c68" stroke-width="0.9" fill="none"/>
<path d="M81.7 30.8v5.0M79.2 33.3h5.0" stroke="#623c68" stroke-width="0.9" fill="none"/>
<path d="M83.4 31.4v5.0M80.9 33.9h5.0" stroke="#623c68" stroke-width="0.9" fill="none"/>
<path d="M85.0 32.2v5.0M82.5 34.7h5.0" stroke="#623c68" stroke-width="0.9" fill="none"/>
<path d="M87.8 34.0v5.0M85.3 36.5h5.0" stroke="#623c68" stroke-width="0.9" fill="none"/>
<path d="M90.3 35.7v5.0M87.8 38.2h5.0" stroke="#623c68" stroke-width="0.9" fill="none"/>
<path d="M92.1 36.8v5.0M89.6 39.3h5.0" stroke="#623c68" stroke-width="0.9" fill="none"/>
<path d="M94.7 38.4v5.0M92.2 40.9h5.0" stroke="#623c68" stroke-width="0.9" fill="none"/>
<path d="M96.7 39.4v5.0M94.2 41.9h5.0" stroke="#623c68" stroke-width="0.9" fill="none"/>
<path d="M99.5 40.7v5.0M97.0 43.2h5.0" stroke="#623c68" stroke-width="0.9" fill="none"/>
<path d="M100.8 41.5v5.0M98.3 44.0h5.0" stroke="#623c68" stroke-width="0.9" fill="none"/>
<path d="M102.4 42.5v5.0M99.9 45.0h5.0" stroke="#623c68" stroke-width="0.9" fill="none"/>
<path d="M105.5 44.4v5.0M103.0 46.9h5.0" stroke="#623c68" stroke-width="0.9" fill="none"/>
<path d="M107.4 45.6v5.0M104.9 48.1h5.0" stroke="#623c68" stroke-width="0.9" fill="none"/>
<path d="M109.1 46.7v5.0M106.6 49.2h5.0" stroke="#623c68" stroke-width="0.9" fill="none"/>
<path d="M111.9 49.8v5.0M109.4 52.3h5.0" stroke="#623c68" stroke-width="0.9" fill="none"/>
<path d="M114.4 52.8v5.0M111.9 55.3h5.0" stroke="#623c68" stroke-width="0.9" fill="none"/>
<path d="M115.8 54.5v5.0M113.3 57.0h5.0" stroke="#623c68" stroke-width="0.9" fill="none"/>
<path d="M118.2 57.3v5.0M115.7 59.8h5.0" stroke="#623c68" stroke-width="0.9" fill="none"/>
<path d="M120.7 60.4v5.0M118.2 62.9h5.0" stroke="#623c68" stroke-width="0.9" fill="none"/>
<path d="M122.2 62.1v5.0M119.7 64.6h5.0" stroke="#623c68" stroke-width="0.9" fill="none"/>
<path d="M124.7 65.1v5.0M122.2 67.6h5.0" stroke="#623c68" stroke-width="0.9" fill="none"/>
<path d="M126.1 66.6v5.0M123.6 69.1h5.0" stroke="#623c68" stroke-width="0.9" fill="none"/>
<path d="M127.9 68.3v5.0M125.4 70.8h5.0" stroke="#623c68" stroke-width="0.9" fill="none"/>
<path d="M129.2 69.4v5.0M126.7 71.9h5.0" stroke="#623c68" stroke-width="0.9" fill="none"/>
<path d="M130.8 70.8v5.0M128.3 73.3h5.0" stroke="#623c68" stroke-width="0.9" fill="none"/>
<path d="M134.0 73.7v5.0M131.5 76.2h5.0" stroke="#623c68" stroke-width="0.9" fill="none"/>
<path d="M136.0 75.5v5.0M133.5 78.0h5.0" stroke="#623c68" stroke-width="0.9" fill="none"/>
<path d="M139.3 78.5v5.0M136.8 81.0h5.0" stroke="#623c68" stroke-width="0.9" fill="none"/>
<path d="M141.3 80.4v5.0M138.8 82.9h5.0" stroke="#623c68" stroke-width="0.9" fill="none"/>
<path d="M143.8 82.9v5.0M141.3 85.4h5.0" stroke="#623c68" stroke-width="0.9" fill="none"/>
<path d="M146.8 86.0v5.0M144.3 88.5h5.0" stroke="#623c68" stroke-width="0.9" fill="none"/>
<path d="M149.4 88.8v5.0M146.9 91.3h5.0" stroke="#623c68" stroke-width="0.9" fill="none"/>
<path d="M150.8 90.3v5.0M148.3 92.8h5.0" stroke="#623c68" stroke-width="0.9" fill="none"/>
<path d="M153.2 92.9v5.0M150.7 95.4h5.0" stroke="#623c68" stroke-width="0.9" fill="none"/>
<path d="M155.6 95.7v5.0M153.1 98.2h5.0" stroke="#623c68" stroke-width="0.9" fill="none"/>
<path d="M157.1 97.4v5.0M154.6 99.9h5.0" stroke="#623c68" stroke-width="0.9" fill="none"/>
<path d="M158.5 98.9v5.0M156.0 101.4h5.0" stroke="#623c68" stroke-width="0.9" fill="none"/>
<path d="M161.5 102.3v5.0M159.0 104.8h5.0" stroke="#623c68" stroke-width="0.9" fill="none"/>
<path d="M163.7 104.9v5.0M161.2 107.4h5.0" stroke="#623c68" stroke-width="0.9" fill="none"/>
<path d="M165.2 106.6v5.0M162.7 109.1h5.0" stroke="#623c68" stroke-width="0.9" fill="none"/>
<path d="M167.3 108.8v5.0M164.8 111.3h5.0" stroke="#623c68" stroke-width="0.9" fill="none"/>
<path d="M168.9 110.4v5.0M166.4 112.9h5.0" stroke="#623c68" stroke-width="0.9" fill="none"/>
<path d="M171.8 114.0v5.0M169.3 116.5h5.0" stroke="#623c68" stroke-width="0.9" fill="none"/>
<path d="M174.0 117.7v5.0M171.5 120.2h5.0" stroke="#623c68" stroke-width="0.9" fill="none"/>
<path d="M175.3 120.2v5.0M172.8 122.7h5.0" stroke="#623c68" stroke-width="0.9" fill="none"/>
<path d="M178.2 125.9v5.0M175.7 128.4h5.0" stroke="#623c68" stroke-width="0.9" fill="none"/>
<path d="M179.5 128.3v5.0M177.0 130.8h5.0" stroke="#623c68" stroke-width="0.9" fill="none"/>
<path d="M181.2 130.6v5.0M178.7 133.1h5.0" stroke="#623c68" stroke-width="0.9" fill="none"/>
<path d="M182.4 132.1v5.0M179.9 134.6h5.0" stroke="#623c68" stroke-width="0.9" fill="none"/>
<path d="M185.1 135.8v5.0M182.6 138.3h5.0" stroke="#623c68" stroke-width="0.9" fill="none"/>
<path d="M186.4 137.2v5.0M183.9 139.7h5.0" stroke="#623c68" stroke-width="0.9" fill="none"/>
<path d="M188.7 139.5v5.0M186.2 142.0h5.0" stroke="#623c68" stroke-width="0.9" fill="none"/>
<path d="M190.0 140.8v5.0M187.5 143.3h5.0" stroke="#623c68" stroke-width="0.9" fill="none"/>
<path d="M192.2 143.0v5.0M189.7 145.5h5.0" stroke="#623c68" stroke-width="0.9" fill="none"/>
<path d="M194.8 145.5v5.0M192.3 148.0h5.0" stroke="#623c68" stroke-width="0.9" fill="none"/>
<path d="M196.0 147.1v4.0M193.5 149.1h5.0" stroke="#623c68" stroke-width="1.0" fill="none"/>
<path d="M197.5 148.4v4.0M195.0 150.4h5.0" stroke="#623c68" stroke-width="1.0" fill="none"/>
<path d="M198.7 149.5v4.0M196.2 151.5h5.0" stroke="#623c68" stroke-width="1.0" fill="none"/>
<path d="M200.5 150.9v4.0M198.0 152.9h5.0" stroke="#623c68" stroke-width="1.0" fill="none"/>
<path d="M201.8 151.8v4.0M199.3 153.8h5.0" stroke="#623c68" stroke-width="1.0" fill="none"/>
<path d="M202.9 152.5v4.0M200.4 154.5h5.0" stroke="#623c68" stroke-width="1.0" fill="none"/>
<path d="M204.7 153.7v4.0M202.2 155.7h5.0" stroke="#623c68" stroke-width="1.0" fill="none"/>
<path d="M207.6 161.0v4.0M205.1 163.0h5.0" stroke="#623c68" stroke-width="1.0" fill="none"/>
<path d="M210.2 167.7v4.0M207.7 169.7h5.0" stroke="#623c68" stroke-width="1.0" fill="none"/>
<path d="M212.7 171.9v4.0M210.2 173.9h5.0" stroke="#623c68" stroke-width="1.0" fill="none"/>
<path d="M214.1 173.5v4.0M211.6 175.5h5.0" stroke="#623c68" stroke-width="1.0" fill="none"/>
<path d="M216.2 175.6v4.0M213.7 177.6h5.0" stroke="#623c68" stroke-width="1.0" fill="none"/>
<path d="M217.8 177.2v4.0M215.3 179.2h5.0" stroke="#623c68" stroke-width="1.0" fill="none"/>
<path d="M219.1 179.0v4.0M216.6 181.0h5.0" stroke="#623c68" stroke-width="1.0" fill="none"/>
<path d="M220.3 180.7v4.0M217.8 182.7h5.0" stroke="#623c68" stroke-width="1.0" fill="none"/>
<path d="M221.7 182.8v4.0M219.2 184.8h5.0" stroke="#623c68" stroke-width="1.0" fill="none"/>
<path d="M224.6 186.7v4.0M222.1 188.7h5.0" stroke="#623c68" stroke-width="1.0" fill="none"/>
<path d="M227.3 190.4v4.0M224.8 192.4h5.0" stroke="#623c68" stroke-width="1.0" fill="none"/>
<path d="M229.9 194.2v4.0M227.4 196.2h5.0" stroke="#623c68" stroke-width="1.0" fill="none"/>
<path d="M232.5 199.2v4.0M230.0 201.2h5.0" stroke="#623c68" stroke-width="1.0" fill="none"/>
<path d="M233.9 202.2v4.0M231.4 204.2h5.0" stroke="#623c68" stroke-width="1.0" fill="none"/>
<path d="M235.5 205.5v4.0M233.0 207.5h5.0" stroke="#623c68" stroke-width="1.0" fill="none"/>
<path d="M237.7 210.0v4.0M235.2 212.0h5.0" stroke="#623c68" stroke-width="1.0" fill="none"/>
<path d="M240.2 214.9v4.0M237.7 216.9h5.0" stroke="#623c68" stroke-width="1.0" fill="none"/>
<path d="M242.9 220.9v4.0M240.4 222.9h5.0" stroke="#623c68" stroke-width="1.0" fill="none"/>
<path d="M245.7 226.5v4.0M243.2 228.5h5.0" stroke="#623c68" stroke-width="1.0" fill="none"/>
<path d="M246.8 228.4v4.0M244.3 230.4h5.0" stroke="#623c68" stroke-width="1.0" fill="none"/>
<path d="M249.0 232.3v4.0M246.5 234.3h5.0" stroke="#623c68" stroke-width="1.0" fill="none"/>
<line x1="250.0" y1="232.6" x2="250.0" y2="237.2" stroke="#623c68" stroke-width="0.9"/>
<line x1="251.5" y1="232.6" x2="251.5" y2="237.2" stroke="#623c68" stroke-width="0.9"/>
<line x1="263.0" y1="236.2" x2="263.0" y2="240.8" stroke="#623c68" stroke-width="0.9"/>
<line x1="265.3" y1="242.4" x2="265.3" y2="247.0" stroke="#623c68" stroke-width="0.9"/>
<line x1="272.0" y1="246.5" x2="272.0" y2="251.1" stroke="#623c68" stroke-width="0.9"/>
<line x1="276.0" y1="249.6" x2="276.0" y2="254.2" stroke="#623c68" stroke-width="0.9"/>
<line x1="278.3" y1="249.6" x2="278.3" y2="254.2" stroke="#623c68" stroke-width="0.9"/>
<line x1="283.5" y1="252.7" x2="283.5" y2="257.3" stroke="#623c68" stroke-width="0.9"/>
<line x1="286.0" y1="253.7" x2="286.0" y2="258.3" stroke="#623c68" stroke-width="0.9"/>
<line x1="299.0" y1="265.0" x2="299.0" y2="269.6" stroke="#623c68" stroke-width="0.9"/>
<line x1="412.3" y1="317.4" x2="412.3" y2="322.0" stroke="#623c68" stroke-width="0.9"/>
<line x1="475.5" y1="317.4" x2="475.5" y2="322.0" stroke="#623c68" stroke-width="0.9"/>
<polyline points="70.8,24.4 77.8,26.2 81.7,27.7 85.6,29.2 93.4,31.8 100.0,34.4 109.6,38.8 119.2,43.0 128.8,47.1 138.5,50.2 148.0,54.0 156.7,60.0 162.5,62.3 168.4,65.0 174.2,68.6 180.1,69.4 185.9,72.4 191.8,76.0 197.6,78.6 203.5,82.4 210.4,87.4 215.0,89.8 218.0,92.5 221.0,96.3 229.5,98.3 233.0,100.6 240.0,106.0 246.8,109.4 252.6,111.3 258.1,113.3 260.7,114.9 261.2,118.5 262.3,120.6 267.5,124.2 271.6,127.3 275.8,129.4 283.1,129.4 285.1,131.0 286.2,133.1 288.3,135.7 290.9,136.2 291.4,139.3 293.5,142.4 295.0,145.0 299.0,147.9 300.6,153.4 302.9,156.5 308.4,158.8 314.6,163.5 317.7,165.8 318.5,172.1 323.9,172.8 327.1,178.3 334.5,180.4 340.8,183.5 342.9,187.7 353.2,188.7 355.3,192.9 357.4,198.1 363.6,199.1 364.7,203.2 366.8,211.6 376.0,211.8 376.6,215.4 379.2,216.4 379.7,218.7 392.2,218.7 392.5,223.5 395.3,223.5 395.3,227.0 401.0,227.0 401.0,232.0 403.6,232.0 404.1,235.7 417.6,235.7 417.9,241.2 421.7,241.2 421.9,246.7 427.9,246.7 428.1,252.1 445.2,252.1 445.4,259.2 459.1,259.2 459.1,267.3 472.4,267.3 472.4,276.9 484.5,276.9 484.5,287.6 500.9,287.6 500.9,302.7" fill="none" stroke="#3d5a84" stroke-width="1.2" stroke-linejoin="round" stroke-linecap="butt" />
<polyline points="70.8,24.4 77.8,26.2 81.7,27.7 85.6,29.2 93.4,31.8 100.0,34.4 109.6,38.8 119.2,43.0 128.8,47.1" fill="none" stroke="#3d5a84" stroke-width="4.6" stroke-linejoin="round" stroke-linecap="butt" />
<polyline points="128.8,47.1 138.5,50.2 148.0,54.0 156.7,60.0 162.5,62.3 168.4,65.0 174.2,68.6 180.1,69.4 185.9,72.4 191.8,76.0 197.6,78.6 203.5,82.4 210.4,87.4 215.0,89.8 218.0,92.5 221.0,96.3 229.5,98.3 233.0,100.6" fill="none" stroke="#3d5a84" stroke-width="4.1" stroke-linejoin="round" stroke-linecap="butt" />
<polyline points="240.0,106.0 246.8,109.4 252.6,111.3 258.1,113.3" fill="none" stroke="#3d5a84" stroke-width="3.0" stroke-linejoin="round" stroke-linecap="butt" />
<path d="M72.0 22.2v5.0M71.0 24.7h2.0" stroke="#3d5a84" stroke-width="0.9" fill="none"/>
<path d="M74.3 22.8v5.0M73.3 25.3h2.0" stroke="#3d5a84" stroke-width="0.9" fill="none"/>
<path d="M75.2 23.0v5.0M74.2 25.5h2.0" stroke="#3d5a84" stroke-width="0.9" fill="none"/>
<path d="M77.1 23.5v5.0M76.1 26.0h2.0" stroke="#3d5a84" stroke-width="0.9" fill="none"/>
<path d="M78.2 23.9v5.0M77.2 26.4h2.0" stroke="#3d5a84" stroke-width="0.9" fill="none"/>
<path d="M80.6 24.8v5.0M79.6 27.3h2.0" stroke="#3d5a84" stroke-width="0.9" fill="none"/>
<path d="M81.4 25.1v5.0M80.4 27.6h2.0" stroke="#3d5a84" stroke-width="0.9" fill="none"/>
<path d="M83.6 25.9v5.0M82.6 28.4h2.0" stroke="#3d5a84" stroke-width="0.9" fill="none"/>
<path d="M85.5 26.7v5.0M84.5 29.2h2.0" stroke="#3d5a84" stroke-width="0.9" fill="none"/>
<path d="M87.7 27.4v5.0M86.7 29.9h2.0" stroke="#3d5a84" stroke-width="0.9" fill="none"/>
<path d="M90.1 28.2v5.0M89.1 30.7h2.0" stroke="#3d5a84" stroke-width="0.9" fill="none"/>
<path d="M91.3 28.6v5.0M90.3 31.1h2.0" stroke="#3d5a84" stroke-width="0.9" fill="none"/>
<path d="M92.6 29.0v5.0M91.6 31.5h2.0" stroke="#3d5a84" stroke-width="0.9" fill="none"/>
<path d="M94.5 29.7v5.0M93.5 32.2h2.0" stroke="#3d5a84" stroke-width="0.9" fill="none"/>
<path d="M95.8 30.2v5.0M94.8 32.7h2.0" stroke="#3d5a84" stroke-width="0.9" fill="none"/>
<path d="M97.0 30.7v5.0M96.0 33.2h2.0" stroke="#3d5a84" stroke-width="0.9" fill="none"/>
<path d="M98.2 31.2v5.0M97.2 33.7h2.0" stroke="#3d5a84" stroke-width="0.9" fill="none"/>
<path d="M100.3 32.1v5.0M99.3 34.6h2.0" stroke="#3d5a84" stroke-width="0.9" fill="none"/>
<path d="M102.5 33.1v5.0M101.5 35.6h2.0" stroke="#3d5a84" stroke-width="0.9" fill="none"/>
<path d="M104.6 34.0v5.0M103.6 36.5h2.0" stroke="#3d5a84" stroke-width="0.9" fill="none"/>
<path d="M105.8 34.5v5.0M104.8 37.0h2.0" stroke="#3d5a84" stroke-width="0.9" fill="none"/>
<path d="M108.0 35.6v5.0M107.0 38.1h2.0" stroke="#3d5a84" stroke-width="0.9" fill="none"/>
<path d="M109.7 36.3v5.0M108.7 38.8h2.0" stroke="#3d5a84" stroke-width="0.9" fill="none"/>
<path d="M110.8 36.8v5.0M109.8 39.3h2.0" stroke="#3d5a84" stroke-width="0.9" fill="none"/>
<path d="M112.4 37.5v5.0M111.4 40.0h2.0" stroke="#3d5a84" stroke-width="0.9" fill="none"/>
<path d="M113.8 38.2v5.0M112.8 40.7h2.0" stroke="#3d5a84" stroke-width="0.9" fill="none"/>
<path d="M114.8 38.6v5.0M113.8 41.1h2.0" stroke="#3d5a84" stroke-width="0.9" fill="none"/>
<path d="M116.5 39.3v5.0M115.5 41.8h2.0" stroke="#3d5a84" stroke-width="0.9" fill="none"/>
<path d="M117.8 39.9v5.0M116.8 42.4h2.0" stroke="#3d5a84" stroke-width="0.9" fill="none"/>
<path d="M119.6 40.7v5.0M118.6 43.2h2.0" stroke="#3d5a84" stroke-width="0.9" fill="none"/>
<path d="M121.8 41.6v5.0M120.8 44.1h2.0" stroke="#3d5a84" stroke-width="0.9" fill="none"/>
<path d="M123.7 42.4v5.0M122.7 44.9h2.0" stroke="#3d5a84" stroke-width="0.9" fill="none"/>
<path d="M125.1 43.0v5.0M124.1 45.5h2.0" stroke="#3d5a84" stroke-width="0.9" fill="none"/>
<path d="M127.3 44.0v5.0M126.3 46.5h2.0" stroke="#3d5a84" stroke-width="0.9" fill="none"/>
<path d="M129.7 44.9v5.0M128.7 47.4h2.0" stroke="#3d5a84" stroke-width="0.9" fill="none"/>
<path d="M131.3 45.4v5.0M130.3 47.9h2.0" stroke="#3d5a84" stroke-width="0.9" fill="none"/>
<path d="M133.6 46.1v5.0M132.6 48.6h2.0" stroke="#3d5a84" stroke-width="0.9" fill="none"/>
<path d="M134.4 46.4v5.0M133.4 48.9h2.0" stroke="#3d5a84" stroke-width="0.9" fill="none"/>
<path d="M135.4 46.7v5.0M134.4 49.2h2.0" stroke="#3d5a84" stroke-width="0.9" fill="none"/>
<path d="M136.5 47.1v5.0M135.5 49.6h2.0" stroke="#3d5a84" stroke-width="0.9" fill="none"/>
<path d="M138.8 47.8v5.0M137.8 50.3h2.0" stroke="#3d5a84" stroke-width="0.9" fill="none"/>
<path d="M140.7 48.6v5.0M139.7 51.1h2.0" stroke="#3d5a84" stroke-width="0.9" fill="none"/>
<path d="M142.7 49.4v5.0M141.7 51.9h2.0" stroke="#3d5a84" stroke-width="0.9" fill="none"/>
<path d="M143.9 49.9v5.0M142.9 52.4h2.0" stroke="#3d5a84" stroke-width="0.9" fill="none"/>
<path d="M145.5 50.5v5.0M144.5 53.0h2.0" stroke="#3d5a84" stroke-width="0.9" fill="none"/>
<path d="M147.7 51.4v5.0M146.7 53.9h2.0" stroke="#3d5a84" stroke-width="0.9" fill="none"/>
<path d="M148.7 52.0v5.0M147.7 54.5h2.0" stroke="#3d5a84" stroke-width="0.9" fill="none"/>
<path d="M149.7 52.7v5.0M148.7 55.2h2.0" stroke="#3d5a84" stroke-width="0.9" fill="none"/>
<path d="M150.6 53.3v5.0M149.6 55.8h2.0" stroke="#3d5a84" stroke-width="0.9" fill="none"/>
<path d="M152.1 54.3v5.0M151.1 56.8h2.0" stroke="#3d5a84" stroke-width="0.9" fill="none"/>
<path d="M154.3 55.8v5.0M153.3 58.3h2.0" stroke="#3d5a84" stroke-width="0.9" fill="none"/>
<path d="M156.0 57.0v5.0M155.0 59.5h2.0" stroke="#3d5a84" stroke-width="0.9" fill="none"/>
<path d="M157.4 57.8v5.0M156.4 60.3h2.0" stroke="#3d5a84" stroke-width="0.9" fill="none"/>
<path d="M159.0 58.4v5.0M158.0 60.9h2.0" stroke="#3d5a84" stroke-width="0.9" fill="none"/>
<path d="M160.1 58.8v5.0M159.1 61.3h2.0" stroke="#3d5a84" stroke-width="0.9" fill="none"/>
<path d="M162.4 59.8v5.0M161.4 62.3h2.0" stroke="#3d5a84" stroke-width="0.9" fill="none"/>
<path d="M163.8 60.4v5.0M162.8 62.9h2.0" stroke="#3d5a84" stroke-width="0.9" fill="none"/>
<path d="M164.9 60.9v5.0M163.9 63.4h2.0" stroke="#3d5a84" stroke-width="0.9" fill="none"/>
<path d="M166.2 61.5v5.0M165.2 64.0h2.0" stroke="#3d5a84" stroke-width="0.9" fill="none"/>
<path d="M168.4 62.5v5.0M167.4 65.0h2.0" stroke="#3d5a84" stroke-width="0.9" fill="none"/>
<path d="M169.7 63.3v5.0M168.7 65.8h2.0" stroke="#3d5a84" stroke-width="0.9" fill="none"/>
<path d="M171.9 64.7v5.0M170.9 67.2h2.0" stroke="#3d5a84" stroke-width="0.9" fill="none"/>
<path d="M173.3 65.5v5.0M172.3 68.0h2.0" stroke="#3d5a84" stroke-width="0.9" fill="none"/>
<path d="M174.8 66.2v5.0M173.8 68.7h2.0" stroke="#3d5a84" stroke-width="0.9" fill="none"/>
<path d="M175.7 66.3v5.0M174.7 68.8h2.0" stroke="#3d5a84" stroke-width="0.9" fill="none"/>
<path d="M177.9 66.6v5.0M176.9 69.1h2.0" stroke="#3d5a84" stroke-width="0.9" fill="none"/>
<path d="M180.0 66.9v5.0M179.0 69.4h2.0" stroke="#3d5a84" stroke-width="0.9" fill="none"/>
<path d="M181.6 67.7v5.0M180.6 70.2h2.0" stroke="#3d5a84" stroke-width="0.9" fill="none"/>
<path d="M182.6 68.2v5.0M181.6 70.7h2.0" stroke="#3d5a84" stroke-width="0.9" fill="none"/>
<path d="M184.1 69.0v5.0M183.1 71.5h2.0" stroke="#3d5a84" stroke-width="0.9" fill="none"/>
<path d="M185.5 69.7v5.0M184.5 72.2h2.0" stroke="#3d5a84" stroke-width="0.9" fill="none"/>
<path d="M187.7 71.0v5.0M186.7 73.5h2.0" stroke="#3d5a84" stroke-width="0.9" fill="none"/>
<path d="M190.0 72.4v5.0M189.0 74.9h2.0" stroke="#3d5a84" stroke-width="0.9" fill="none"/>
<path d="M192.0 73.6v5.0M191.0 76.1h2.0" stroke="#3d5a84" stroke-width="0.9" fill="none"/>
<path d="M193.2 74.1v5.0M192.2 76.6h2.0" stroke="#3d5a84" stroke-width="0.9" fill="none"/>
<path d="M194.1 74.5v5.0M193.1 77.0h2.0" stroke="#3d5a84" stroke-width="0.9" fill="none"/>
<path d="M196.3 75.5v5.0M195.3 78.0h2.0" stroke="#3d5a84" stroke-width="0.9" fill="none"/>
<path d="M198.6 76.8v5.0M197.6 79.3h2.0" stroke="#3d5a84" stroke-width="0.9" fill="none"/>
<path d="M199.7 77.4v5.0M198.7 79.9h2.0" stroke="#3d5a84" stroke-width="0.9" fill="none"/>
<path d="M201.3 78.5v5.0M200.3 81.0h2.0" stroke="#3d5a84" stroke-width="0.9" fill="none"/>
<path d="M202.8 79.5v5.0M201.8 82.0h2.0" stroke="#3d5a84" stroke-width="0.9" fill="none"/>
<path d="M205.2 81.1v5.0M204.2 83.6h2.0" stroke="#3d5a84" stroke-width="0.9" fill="none"/>
<path d="M206.1 81.8v5.0M205.1 84.3h2.0" stroke="#3d5a84" stroke-width="0.9" fill="none"/>
<path d="M207.0 82.4v5.0M206.0 84.9h2.0" stroke="#3d5a84" stroke-width="0.9" fill="none"/>
<path d="M209.1 84.0v5.0M208.1 86.5h2.0" stroke="#3d5a84" stroke-width="0.9" fill="none"/>
<path d="M210.8 85.1v5.0M209.8 87.6h2.0" stroke="#3d5a84" stroke-width="0.9" fill="none"/>
<path d="M212.4 85.9v5.0M211.4 88.4h2.0" stroke="#3d5a84" stroke-width="0.9" fill="none"/>
<path d="M214.4 87.0v5.0M213.4 89.5h2.0" stroke="#3d5a84" stroke-width="0.9" fill="none"/>
<path d="M216.2 88.4v5.0M215.2 90.9h2.0" stroke="#3d5a84" stroke-width="0.9" fill="none"/>
<path d="M218.1 90.1v5.0M217.1 92.6h2.0" stroke="#3d5a84" stroke-width="0.9" fill="none"/>
<path d="M219.3 91.6v5.0M218.3 94.1h2.0" stroke="#3d5a84" stroke-width="0.9" fill="none"/>
<path d="M220.2 92.8v5.0M219.2 95.3h2.0" stroke="#3d5a84" stroke-width="0.9" fill="none"/>
<path d="M221.0 93.8v5.0M220.0 96.3h2.0" stroke="#3d5a84" stroke-width="0.9" fill="none"/>
<path d="M222.4 94.1v5.0M221.4 96.6h2.0" stroke="#3d5a84" stroke-width="0.9" fill="none"/>
<path d="M224.2 94.6v5.0M223.2 97.1h2.0" stroke="#3d5a84" stroke-width="0.9" fill="none"/>
<path d="M225.6 94.9v5.0M224.6 97.4h2.0" stroke="#3d5a84" stroke-width="0.9" fill="none"/>
<path d="M227.0 95.2v5.0M226.0 97.7h2.0" stroke="#3d5a84" stroke-width="0.9" fill="none"/>
<path d="M228.8 95.6v5.0M227.8 98.1h2.0" stroke="#3d5a84" stroke-width="0.9" fill="none"/>
<path d="M230.7 96.6v5.0M229.7 99.1h2.0" stroke="#3d5a84" stroke-width="0.9" fill="none"/>
<path d="M232.4 97.7v5.0M231.4 100.2h2.0" stroke="#3d5a84" stroke-width="0.9" fill="none"/>
<path d="M233.7 98.7v5.0M232.7 101.2h2.0" stroke="#3d5a84" stroke-width="0.9" fill="none"/>
<path d="M235.9 100.3v5.0M234.9 102.8h2.0" stroke="#3d5a84" stroke-width="0.9" fill="none"/>
<path d="M237.9 101.9v5.0M236.9 104.4h2.0" stroke="#3d5a84" stroke-width="0.9" fill="none"/>
<path d="M240.2 103.6v5.0M239.2 106.1h2.0" stroke="#3d5a84" stroke-width="0.9" fill="none"/>
<path d="M242.4 104.7v5.0M241.4 107.2h2.0" stroke="#3d5a84" stroke-width="0.9" fill="none"/>
<path d="M243.2 105.1v5.0M242.2 107.6h2.0" stroke="#3d5a84" stroke-width="0.9" fill="none"/>
<path d="M245.1 106.0v5.0M244.1 108.5h2.0" stroke="#3d5a84" stroke-width="0.9" fill="none"/>
<path d="M246.4 106.7v5.0M245.4 109.2h2.0" stroke="#3d5a84" stroke-width="0.9" fill="none"/>
<path d="M247.9 107.2v5.0M246.9 109.7h2.0" stroke="#3d5a84" stroke-width="0.9" fill="none"/>
<path d="M249.5 107.8v5.0M248.5 110.3h2.0" stroke="#3d5a84" stroke-width="0.9" fill="none"/>
<path d="M250.5 108.1v5.0M249.5 110.6h2.0" stroke="#3d5a84" stroke-width="0.9" fill="none"/>
<path d="M251.7 108.5v5.0M250.7 111.0h2.0" stroke="#3d5a84" stroke-width="0.9" fill="none"/>
<path d="M254.1 109.3v5.0M253.1 111.8h2.0" stroke="#3d5a84" stroke-width="0.9" fill="none"/>
<path d="M255.4 109.8v5.0M254.4 112.3h2.0" stroke="#3d5a84" stroke-width="0.9" fill="none"/>
<path d="M257.7 110.7v5.0M256.7 113.2h2.0" stroke="#3d5a84" stroke-width="0.9" fill="none"/>
<polyline points="258.1,113.3 260.7,114.9 261.2,118.5 262.3,120.6 267.5,124.2 271.6,127.3 275.8,129.4 283.1,129.4 285.1,131.0 286.2,133.1 288.3,135.7 290.9,136.2 291.4,139.3 293.5,142.4 295.0,145.0 299.0,147.9" fill="none" stroke="#3d5a84" stroke-width="2.2" stroke-linejoin="round" stroke-linecap="butt" />
<path d="M258.0 110.9v4.8M256.2 113.3h3.6" stroke="#3d5a84" stroke-width="1.0" fill="none"/>
<path d="M260.7 112.5v4.8M258.9 114.9h3.6" stroke="#3d5a84" stroke-width="1.0" fill="none"/>
<path d="M263.7 119.2v4.8M261.9 121.6h3.6" stroke="#3d5a84" stroke-width="1.0" fill="none"/>
<path d="M266.8 121.3v4.8M265.0 123.7h3.6" stroke="#3d5a84" stroke-width="1.0" fill="none"/>
<path d="M270.2 123.9v4.8M268.4 126.3h3.6" stroke="#3d5a84" stroke-width="1.0" fill="none"/>
<path d="M273.2 125.7v4.8M271.4 128.1h3.6" stroke="#3d5a84" stroke-width="1.0" fill="none"/>
<path d="M276.6 127.0v4.8M274.8 129.4h3.6" stroke="#3d5a84" stroke-width="1.0" fill="none"/>
<path d="M277.9 127.0v4.8M276.1 129.4h3.6" stroke="#3d5a84" stroke-width="1.0" fill="none"/>
<path d="M280.2 127.0v4.8M278.4 129.4h3.6" stroke="#3d5a84" stroke-width="1.0" fill="none"/>
<path d="M283.7 127.5v4.8M281.9 129.9h3.6" stroke="#3d5a84" stroke-width="1.0" fill="none"/>
<path d="M286.4 131.0v4.8M284.6 133.4h3.6" stroke="#3d5a84" stroke-width="1.0" fill="none"/>
<path d="M289.8 133.6v4.8M288.0 136.0h3.6" stroke="#3d5a84" stroke-width="1.0" fill="none"/>
<path d="M291.3 136.1v4.8M289.5 138.5h3.6" stroke="#3d5a84" stroke-width="1.0" fill="none"/>
<path d="M293.6 140.2v4.8M291.8 142.6h3.6" stroke="#3d5a84" stroke-width="1.0" fill="none"/>
<path d="M295.4 142.9v4.8M293.6 145.3h3.6" stroke="#3d5a84" stroke-width="1.0" fill="none"/>
<path d="M297.9 144.7v4.8M296.1 147.1h3.6" stroke="#3d5a84" stroke-width="1.0" fill="none"/>
<path d="M300.5 150.6v4.8M298.7 153.0h3.6" stroke="#3d5a84" stroke-width="1.0" fill="none"/>
<path d="M301.7 152.5v4.8M299.9 154.9h3.6" stroke="#3d5a84" stroke-width="1.0" fill="none"/>
<path d="M303.4 154.3v4.8M301.6 156.7h3.6" stroke="#3d5a84" stroke-width="1.0" fill="none"/>
<path d="M305.3 155.1v4.8M303.5 157.5h3.6" stroke="#3d5a84" stroke-width="1.0" fill="none"/>
<path d="M308.7 156.6v4.8M306.9 159.0h3.6" stroke="#3d5a84" stroke-width="1.0" fill="none"/>
<path d="M311.7 158.9v4.8M309.9 161.3h3.6" stroke="#3d5a84" stroke-width="1.0" fill="none"/>
<path d="M313.3 160.1v4.8M311.5 162.5h3.6" stroke="#3d5a84" stroke-width="1.0" fill="none"/>
<path d="M316.4 162.5v4.8M314.6 164.9h3.6" stroke="#3d5a84" stroke-width="1.0" fill="none"/>
<path d="M318.0 165.5v4.8M316.2 167.9h3.6" stroke="#3d5a84" stroke-width="1.0" fill="none"/>
<path d="M320.6 170.0v4.8M318.8 172.4h3.6" stroke="#3d5a84" stroke-width="1.0" fill="none"/>
<path d="M322.2 170.2v4.8M320.4 172.6h3.6" stroke="#3d5a84" stroke-width="1.0" fill="none"/>
<path d="M323.4 170.3v4.8M321.6 172.7h3.6" stroke="#3d5a84" stroke-width="1.0" fill="none"/>
<path d="M326.6 175.1v4.8M324.8 177.5h3.6" stroke="#3d5a84" stroke-width="1.0" fill="none"/>
<path d="M328.4 176.3v4.8M326.6 178.7h3.6" stroke="#3d5a84" stroke-width="1.0" fill="none"/>
<path d="M330.1 176.7v4.8M328.3 179.1h3.6" stroke="#3d5a84" stroke-width="1.0" fill="none"/>
<path d="M333.6 177.8v4.8M331.8 180.2h3.6" stroke="#3d5a84" stroke-width="1.0" fill="none"/>
<path d="M336.9 179.2v4.8M335.1 181.6h3.6" stroke="#3d5a84" stroke-width="1.0" fill="none"/>
<path d="M338.8 180.1v4.8M337.0 182.5h3.6" stroke="#3d5a84" stroke-width="1.0" fill="none"/>
<path d="M342.3 184.1v4.8M340.5 186.5h3.6" stroke="#3d5a84" stroke-width="1.0" fill="none"/>
<path d="M344.8 185.5v4.8M343.0 187.9h3.6" stroke="#3d5a84" stroke-width="1.0" fill="none"/>
<line x1="353.0" y1="186.4" x2="353.0" y2="191.0" stroke="#3d5a84" stroke-width="0.9"/>
<line x1="356.0" y1="190.6" x2="356.0" y2="195.2" stroke="#3d5a84" stroke-width="0.9"/>
<line x1="360.0" y1="196.3" x2="360.0" y2="200.9" stroke="#3d5a84" stroke-width="0.9"/>
<line x1="363.5" y1="196.8" x2="363.5" y2="201.4" stroke="#3d5a84" stroke-width="0.9"/>
<line x1="364.0" y1="200.7" x2="364.0" y2="205.3" stroke="#3d5a84" stroke-width="0.9"/>
<line x1="366.8" y1="209.3" x2="366.8" y2="213.9" stroke="#3d5a84" stroke-width="0.9"/>
<line x1="380.0" y1="216.4" x2="380.0" y2="221.0" stroke="#3d5a84" stroke-width="0.9"/>
<line x1="385.0" y1="216.4" x2="385.0" y2="221.0" stroke="#3d5a84" stroke-width="0.9"/>
<line x1="391.0" y1="216.4" x2="391.0" y2="221.0" stroke="#3d5a84" stroke-width="0.9"/>
<line x1="404.5" y1="233.4" x2="404.5" y2="238.0" stroke="#3d5a84" stroke-width="0.9"/>
<line x1="411.5" y1="233.4" x2="411.5" y2="238.0" stroke="#3d5a84" stroke-width="0.9"/>
<line x1="415.5" y1="233.4" x2="415.5" y2="238.0" stroke="#3d5a84" stroke-width="0.9"/>
<line x1="426.5" y1="244.4" x2="426.5" y2="249.0" stroke="#3d5a84" stroke-width="0.9"/>
<line x1="428.5" y1="249.8" x2="428.5" y2="254.4" stroke="#3d5a84" stroke-width="0.9"/>
<line x1="444.5" y1="249.8" x2="444.5" y2="254.4" stroke="#3d5a84" stroke-width="0.9"/>
<line x1="447.5" y1="256.9" x2="447.5" y2="261.5" stroke="#3d5a84" stroke-width="0.9"/>
<line x1="471.5" y1="265.0" x2="471.5" y2="269.6" stroke="#3d5a84" stroke-width="0.9"/>
<line x1="478.0" y1="274.6" x2="478.0" y2="279.2" stroke="#3d5a84" stroke-width="0.9"/>
<line x1="498.5" y1="285.3" x2="498.5" y2="289.9" stroke="#3d5a84" stroke-width="0.9"/>
</g>
</svg></body></html>
